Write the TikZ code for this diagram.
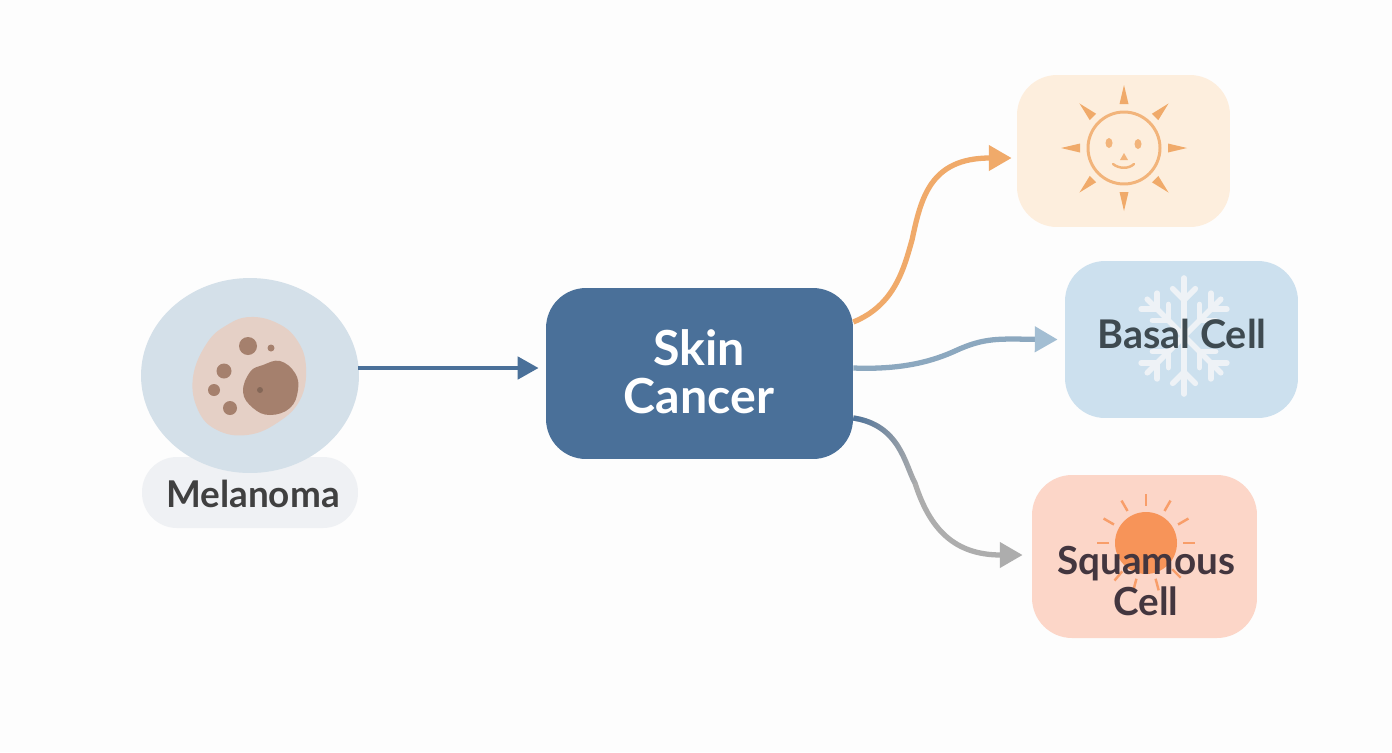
\documentclass[tikz,border=0pt]{standalone}
\usepackage{fontspec}
\setmainfont{Lato}
\usetikzlibrary{calc}
\usetikzlibrary{arrows.meta}
\usetikzlibrary{fadings}
\usetikzlibrary{shapes.geometric}
\definecolor{pagewhite}{HTML}{FDFDFD}
\definecolor{skinblue}{HTML}{4A7099}
\definecolor{lesionblue}{HTML}{D4E0E9}
\definecolor{pillgrey}{HTML}{EFF1F4}
\definecolor{blobpink}{HTML}{E5D0C6}
\definecolor{blobbrown}{HTML}{A5806D}
\definecolor{sunbox}{HTML}{FDEEDD}
\definecolor{sunorange}{HTML}{F0AA6A}
\definecolor{basalbox}{HTML}{CCE0EE}
\definecolor{flakewhite}{HTML}{EEF2F6}
\definecolor{squamousbox}{HTML}{FCD6C8}
\definecolor{squamousorange}{HTML}{F79459}
\definecolor{linkblue}{HTML}{8CA8BF}
\definecolor{linkhead}{HTML}{A3BED3}
\definecolor{linkgrey}{HTML}{ADADAD}
\definecolor{basaltextcol}{HTML}{3E4A50}
\definecolor{squamoustextcol}{HTML}{43363F}
\tikzfading[name=fadelink, left color=transparent!0, right color=transparent!100]
\tikzset{
  typebox/.style={rectangle,rounded corners=0.8cm,inner sep=0pt},
  typetext/.style={font=\fontsize{21pt}{23.2pt}\selectfont\bfseries,align=center,text=#1},
  link/.style={line width=3pt,-{Triangle[length=13pt,width=14pt]}}
}
\begin{document}
\begin{tikzpicture}[x=0.02cm,y=-0.02cm]
  \useasboundingbox[fill=pagewhite] (0,0) rectangle (1392,752);
  % melanoma
  \node[rectangle,rounded corners=0.7cm,fill=pillgrey,minimum width=4.32cm,minimum height=1.42cm,inner sep=0pt] (pill) at (250,492.5) {};
  \node[ellipse,fill=lesionblue,minimum width=4.36cm,minimum height=3.9cm,inner sep=0pt] (lesion) at (250,375.5) {};
  \fill[blobpink] plot[smooth cycle,tension=0.7] coordinates {(250,317) (277,323) (297,340) (306,367) (300,400) (277,423) (247,435) (217,430) (198,410) (193,377) (207,343) (227,325)};
  \fill[blobbrown] plot[smooth cycle,tension=0.7] coordinates {(280,361) (295,373) (298,390) (290,408) (270,415) (253,408) (243,392) (250,372) (263,365)};
  \foreach \dotx/\doty/\dotr in {248/346/9,271/348/3.5,224/371/7.5,214/390/6,230/408/7}
    \fill[blobbrown] (\dotx,\doty) circle[radius=\dotr*0.02cm];
  \fill[blobbrown!80!black] (260,390) circle[radius=0.06cm];
  \node[typetext=black!75] (melanoma) at (253,494) {Melanoma};
  % boxes
  \node[typebox,fill=skinblue,minimum width=6.14cm,minimum height=3.42cm] (skin) at (699.5,373.5) {};
  \node[typetext=white,font=\fontsize{27.5pt}{27.2pt}\selectfont\bfseries] (skintext) at (699,372) {Skin\\Cancer};
  \node[typebox,fill=sunbox,minimum width=4.26cm,minimum height=3.04cm] (sun) at (1123.5,151) {};
  \node[typebox,fill=basalbox,minimum width=4.66cm,minimum height=3.14cm] (basal) at (1181.5,339.5) {};
  \node[typebox,fill=squamousbox,minimum width=4.5cm,minimum height=3.26cm] (squamous) at (1144.5,556.5) {};
  % sun icon
  \draw[sunorange!85!sunbox,line width=1.7pt] (1124,148) circle[radius=0.72cm];
  \foreach \a in {0,45,...,315}
    \fill[sunorange] ($(1124,148)+(\a:44)+(\a+90:4.5)$) -- ($(1124,148)+(\a:63)$) -- ($(1124,148)+(\a:44)+(\a-90:4.5)$) -- cycle;
  \fill[sunorange!85!sunbox] (1109,143) ellipse[x radius=0.07cm,y radius=0.1cm];
  \fill[sunorange!85!sunbox] (1138,144) ellipse[x radius=0.07cm,y radius=0.1cm];
  \fill[sunorange!85!sunbox] (1124,153) -- (1128,160) -- (1120,160) -- cycle;
  \draw[sunorange!85!sunbox,line width=1.4pt,line cap=round] (1113,164) .. controls (1119,169) and (1129,169) .. (1134,164);
  % snowflake
  \begin{scope}[flakewhite,line width=3.2pt,line cap=round]
    \foreach \a in {90,270}{
      \draw (1184,336) -- ($(1184,336)+(\a:58)$);
      \draw ($(1184,336)+(\a:36)$) -- ++(\a+45:16);
      \draw ($(1184,336)+(\a:36)$) -- ++(\a-45:16);
    }
    \foreach \a in {45,135,225,315}{
      \draw (1184,336) -- ($(1184,336)+(\a:52)$);
      \draw ($(1184,336)+(\a:22)$) -- ++(\a+45:16);
      \draw ($(1184,336)+(\a:22)$) -- ++(\a-45:16);
      \draw ($(1184,336)+(\a:38)$) -- ++(\a+45:16);
      \draw ($(1184,336)+(\a:38)$) -- ++(\a-45:16);
    }
  \end{scope}
  % squamous sun
  \fill[squamousorange] (1146,543) circle[radius=0.62cm];
  \foreach \a in {0,-30,-60,-90,-120,-150,180,130,105,75,45}
    \draw[squamousorange!85!squamousbox,line width=1.4pt] ($(1146,543)+(\a:37)$) -- ($(1146,543)+(\a:49)$);
  \node[typetext=basaltextcol,font=\fontsize{22.5pt}{24pt}\selectfont\bfseries] (basaltext) at (1182,334) {Basal Cell};
  \node[typetext=squamoustextcol,font=\fontsize{22pt}{23.2pt}\selectfont\bfseries] (squamoustext) at (1146,581) {Squamous\\Cell};
  % links
  \draw[line width=2.8pt,skinblue,-{Triangle[length=12pt,width=12.5pt]}] ($(lesion.east)+(-1,-7.5)$) -- ($(skin.west)+(-7,-5.5)$);
  \draw[link,sunorange] ($(skin.east)+(0,-51.5)$) .. controls (895,305) and (904,268) .. (912,240) .. controls (921,198) and (930,158) .. ($(sun.west)+(-5,7)$);
  \draw[link,linkblue,-{Triangle[length=13pt,width=14pt,color=linkhead]}] ($(skin.east)+(0,-5.5)$) .. controls (905,370) and (935,360) .. (955,351) .. controls (985,337) and (1000,339) .. ($(basal.west)+(-7,0)$);
  \draw[link,linkgrey] ($(skin.east)+(0,44.5)$) .. controls (900,425) and (905,465) .. (915,483) .. controls (930,530) and (955,555) .. ($(squamous.west)+(-9,-1.5)$);
  \draw[skinblue,line width=3pt,path fading=fadelink] ($(skin.east)+(0,44.5)$) .. controls (900,425) and (905,465) .. (915,483);
\end{tikzpicture}
\end{document}
